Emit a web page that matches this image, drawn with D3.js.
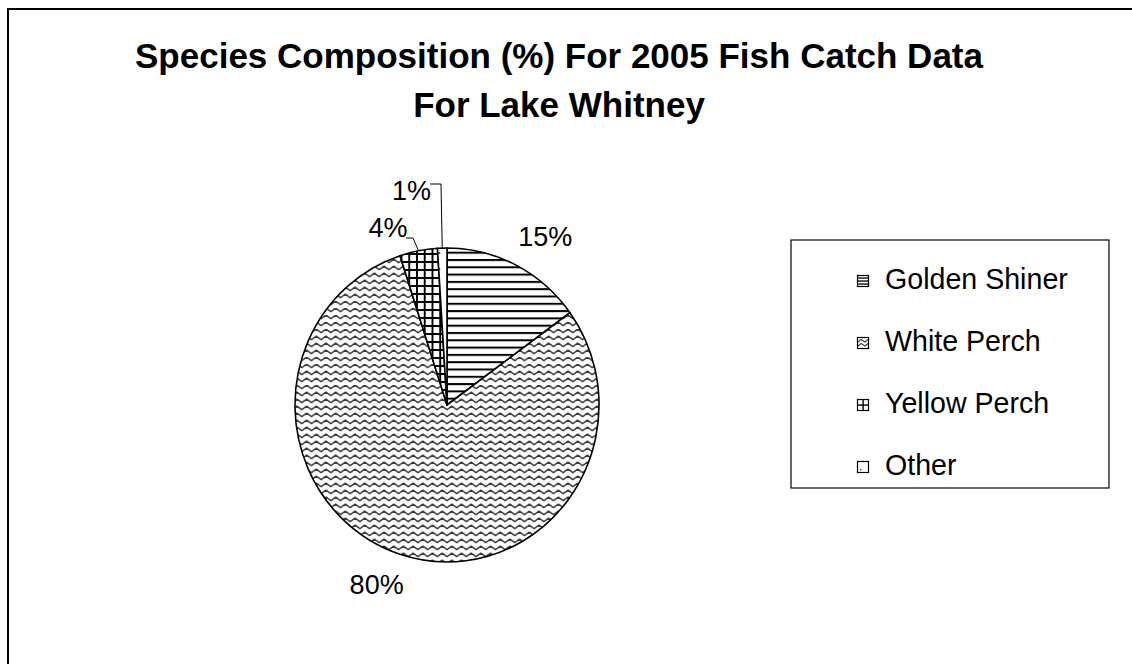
<!DOCTYPE html>
<html>
<head>
<meta charset="utf-8">
<script src="https://cdn.jsdelivr.net/npm/d3@7"></script>
<style>
  html, body { margin: 0; padding: 0; background: #fff; }
  svg { display: block; font-family: "Liberation Sans", Arial, sans-serif; }
</style>
</head>
<body>
<svg id="chart" width="1132" height="664"></svg>
<script>
// Species composition of the 2005 catch
const species = ["Golden Shiner", "White Perch", "Yellow Perch", "Other"];
const shares = [15, 80, 4, 1];
const shareLabels = ["15%", "80%", "4%", "1%"];
const fills = ["hlines", "waves", "grid", "dots"];

const titleLines = ["Species Composition (%) For 2005 Fish Catch Data", "For Lake Whitney"];

const svg = d3.select("#chart");
const defs = svg.append("defs");

// Hatch patterns for the slices
const hl = defs.append("pattern").attr("id", "hlines").attr("patternUnits", "userSpaceOnUse")
  .attr("width", 8).attr("height", 7.3);
hl.append("rect").attr("width", 8).attr("height", 7.3).attr("fill", "#fff");
hl.append("rect").attr("y", 0).attr("width", 8).attr("height", 2).attr("fill", "#000");

const wv = defs.append("pattern").attr("id", "waves").attr("patternUnits", "userSpaceOnUse")
  .attr("width", 10).attr("height", 7);
wv.append("rect").attr("width", 10).attr("height", 7).attr("fill", "#fff");
wv.append("path").attr("d", "M-2.5,2 L0,4.6 L5,1.2 L10,4.6 L12.5,2")
  .attr("fill", "none").attr("stroke", "#3a3a3a").attr("stroke-width", 1.6)
  .attr("stroke-linejoin", "round");

const gd = defs.append("pattern").attr("id", "grid").attr("patternUnits", "userSpaceOnUse")
  .attr("width", 8).attr("height", 8);
gd.append("rect").attr("width", 8).attr("height", 8).attr("fill", "#fff");
gd.append("rect").attr("width", 8).attr("height", 2).attr("fill", "#000");
gd.append("rect").attr("width", 2).attr("height", 8).attr("fill", "#000");

const dt = defs.append("pattern").attr("id", "dots").attr("patternUnits", "userSpaceOnUse")
  .attr("width", 16).attr("height", 16);
dt.append("rect").attr("width", 16).attr("height", 16).attr("fill", "#fff");
dt.append("rect").attr("x", 7).attr("y", 7).attr("width", 2).attr("height", 2).attr("fill", "#555");

// Smaller versions of the same hatches for the legend keys (12x12 box)
const keyDefs = {
  hlines: g => {
    [3, 6, 9].forEach(y => g.append("rect").attr("x", 0).attr("y", y - 0.6).attr("width", 12).attr("height", 1.3).attr("fill", "#000"));
  },
  waves: g => {
    g.append("path").attr("d", "M1,5 L4,2.5 L8,5 L11,2.5 M1,9 L4,6.5 L8,9 L11,6.5")
      .attr("fill", "none").attr("stroke", "#444").attr("stroke-width", 1.1);
  },
  grid: g => {
    g.append("rect").attr("x", 0).attr("y", 5.4).attr("width", 12).attr("height", 1.4).attr("fill", "#000");
    g.append("rect").attr("x", 5.4).attr("y", 0).attr("width", 1.4).attr("height", 12).attr("fill", "#000");
  },
  dots: g => {
    g.append("rect").attr("x", 3).attr("y", 8).attr("width", 1.4).attr("height", 1.4).attr("fill", "#333");
  }
};

// Outer chart frame
svg.append("rect").attr("x", 8).attr("y", 9).attr("width", 1140).attr("height", 680)
  .attr("fill", "#fff").attr("stroke", "#000").attr("stroke-width", 2);

// Title
svg.append("g").selectAll("text").data(titleLines).join("text")
  .attr("x", 559).attr("y", (d, i) => 68 + i * 49)
  .attr("text-anchor", "middle").attr("font-weight", "bold").attr("font-size", 35)
  .text(d => d);

// Pie
const cx = 447, cy = 405, rx = 152, ry = 157;
const pie = d3.pie().sort(null).value(d => d)(shares);
const arc = d3.arc().innerRadius(0).outerRadius(ry);

const pg = svg.append("g").attr("transform", `translate(${cx},${cy}) scale(${rx / ry},1)`);
pg.selectAll("path").data(pie).join("path")
  .attr("d", arc)
  .attr("fill", (d, i) => `url(#${fills[i]})`)
  .attr("stroke", "#000").attr("stroke-width", 1.6)
  .attr("vector-effect", "non-scaling-stroke")
  .attr("stroke-linejoin", "round");

// Point on the (slightly elliptical) rim at a pie angle
function rim(a, k) {
  return [cx + rx * k * Math.sin(a), cy - ry * k * Math.cos(a)];
}
const mid = d => (d.startAngle + d.endAngle) / 2;

// Percentage labels: [distance factor along mid-angle, dx, dy]
const labelPlace = [[1.22, 14, 5], [1.2, -14, 3], [1.16, -26, 4], [1.38, -29, 4]];
const lg = svg.append("g").attr("font-size", 27);
pie.forEach((d, i) => {
  const [lx, ly] = rim(mid(d), labelPlace[i][0]);
  lg.append("text")
    .attr("x", lx + labelPlace[i][1]).attr("y", ly + labelPlace[i][2])
    .attr("text-anchor", "middle").attr("dominant-baseline", "middle")
    .text(shareLabels[i]);
});

// Leader lines for the two narrow slices
const leaders = [[2, 406, 238, 413], [3, 430, 184, 441]];
leaders.forEach(([i, x0, y0, x1]) => {
  const [ex, ey] = rim(mid(pie[i]), 1);
  svg.append("polyline")
    .attr("points", `${x0},${y0} ${x1},${y0} ${ex},${ey}`)
    .attr("fill", "none").attr("stroke", "#000").attr("stroke-width", 1);
});

// Legend
const legend = svg.append("g");
legend.append("rect").attr("x", 791).attr("y", 240).attr("width", 318).attr("height", 248)
  .attr("fill", "#fff").attr("stroke", "#000").attr("stroke-width", 1.2);
const ly = d3.scalePoint().domain(species).range([281, 467]);
const items = legend.selectAll("g.item").data(species).join("g").attr("class", "item")
  .attr("transform", d => `translate(857,${ly(d) - 6})`);
items.append("rect").attr("width", 12).attr("height", 12).attr("fill", "#fff");
items.each(function (d, i) { keyDefs[fills[i]](d3.select(this)); });
items.append("rect").attr("x", 0.5).attr("y", 0.5).attr("width", 11).attr("height", 11)
  .attr("fill", "none").attr("stroke", "#000").attr("stroke-width", 1.2);
items.append("text").attr("x", 28).attr("y", 6).attr("dominant-baseline", "middle")
  .attr("font-size", 28.6).text(d => d);
</script>
</body>
</html>
